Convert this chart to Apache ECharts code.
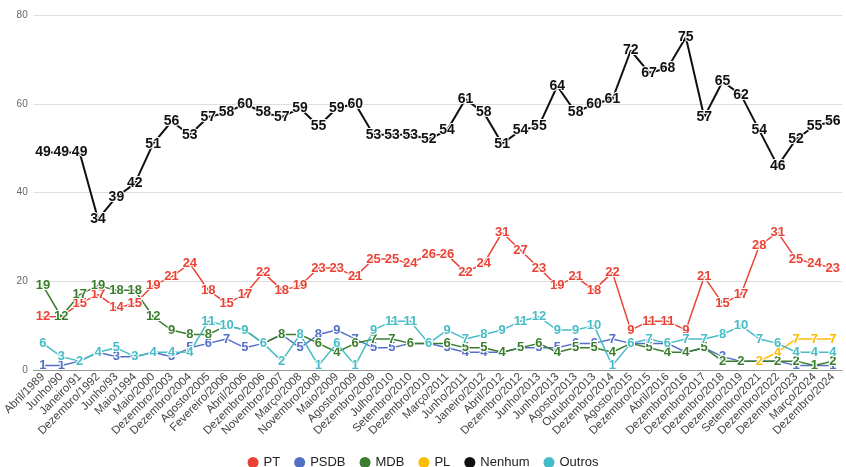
<!DOCTYPE html>
<html>
<head>
<meta charset="utf-8">
<script src="https://cdn.jsdelivr.net/npm/echarts@6/dist/echarts.min.js"></script>
<style>
  html, body { margin: 0; padding: 0; background: #fff; }
  #chart { width: 846px; height: 467px; }
</style>
</head>
<body>
<div id="chart"></div>
<script>
var categories = ['Abril/1989', 'Junho/90', 'Janeiro/91', 'Dezembro/1992', 'Junho/93', 'Maio/1994',
  'Maio/2000', 'Dezembro/2003', 'Dezembro/2004', 'Agosto/2005', 'Fevereiro/2006', 'Abril/2006',
  'Dezembro/2006', 'Novembro/2007', 'Março/2008', 'Novembro/2008', 'Maio/2009', 'Agosto/2009',
  'Dezembro/2009', 'Julho/2010', 'Setembro/2010', 'Dezembro/2010', 'Março/2011', 'Junho/2011',
  'Janeiro/2012', 'Abril/2012', 'Dezembro/2012', 'Junho/2013', 'Junho/2013', 'Agosto/2013',
  'Outubro/2013', 'Dezembro/2014', 'Agosto/2015', 'Dezembro/2015', 'Abril/2016', 'Dezembro/2016',
  'Dezembro/2017', 'Dezembro/2018', 'Dezembro/2019', 'Setembro/2021', 'Dezembro/2022',
  'Dezembro/2023', 'Março/2024', 'Dezembro/2024'];

var pt = [12, 12, 15, 17, 14, 15, 19, 21, 24, 18, 15, 17, 22, 18, 19, 23, 23, 21, 25, 25, 24, 26,
  26, 22, 24, 31, 27, 23, 19, 21, 18, 22, 9, 11, 11, 9, 21, 15, 17, 28, 31, 25, 24, 23];
var psdb = [1, 1, 2, 4, 3, 3, 4, 3, 5, 6, 7, 5, 6, 8, 5, 8, 9, 7, 5, 5, 6, 6, 5, 4, 4, 4, 5, 5,
  5, 6, 6, 7, 6, 6, 6, 4, 5, 3, 2, 2, 2, 1, 1, 1];
var mdb = [19, 12, 17, 19, 18, 18, 12, 9, 8, 8, 10, 9, 6, 8, 8, 6, 4, 6, 7, 7, 6, 6, 6, 5, 5, 4,
  5, 6, 4, 5, 5, 4, 6, 5, 4, 4, 5, 2, 2, 2, 2, 2, 1, 2];
var pl = [null, null, null, null, null, null, null, null, null, null, null, null, null, null,
  null, null, null, null, null, null, null, null, null, null, null, null, null, null, null, null,
  null, null, null, null, null, null, null, null, null, 2, 4, 7, 7, 7];
var nenhum = [49, 49, 49, 34, 39, 42, 51, 56, 53, 57, 58, 60, 58, 57, 59, 55, 59, 60, 53, 53, 53,
  52, 54, 61, 58, 51, 54, 55, 64, 58, 60, 61, 72, 67, 68, 75, 57, 65, 62, 54, 46, 52, 55, 56];
var outros = [6, 3, 2, 4, 5, 3, 4, 4, 4, 11, 10, 9, 6, 2, 8, 1, 6, 1, 9, 11, 11, 6, 9, 7, 8, 9,
  11, 12, 9, 9, 10, 1, 6, 7, 6, 7, 7, 8, 10, 7, 6, 4, 4, 4];

var yTicks = [0, 20, 40, 60, 80];

function makeSeries(name, data, color, width, fontSize) {
  return {
    name: name,
    type: 'line',
    data: data,
    color: color,
    symbol: 'circle',
    symbolSize: 1,
    showAllSymbol: true,
    connectNulls: false,
    animation: false,
    lineStyle: { color: color, width: width },
    label: {
      show: true,
      position: 'inside',
      color: color,
      fontFamily: 'Liberation Sans, Arial, sans-serif',
      fontWeight: 'bold',
      fontSize: fontSize,
      textBorderColor: '#fff',
      textBorderWidth: 2
    }
  };
}

var chart = echarts.init(document.getElementById('chart'));
chart.setOption({
  backgroundColor: '#fff',
  textStyle: { fontFamily: 'Liberation Sans, Arial, sans-serif' },
  grid: { left: 28, right: 4, top: 15, bottom: 97 },
  legend: {
    top: 451,
    icon: 'circle',
    itemWidth: 11,
    itemHeight: 11,
    itemGap: 14,
    textStyle: { color: '#222', fontSize: 13 },
    data: ['PT', 'PSDB', 'MDB', 'PL', 'Nenhum', 'Outros']
  },
  xAxis: {
    type: 'category',
    data: categories,
    boundaryGap: true,
    axisTick: { show: false },
    axisLine: { lineStyle: { color: '#999' } },
    axisLabel: { interval: 0, rotate: 45, color: '#444', fontSize: 11.5, margin: 5 }
  },
  yAxis: {
    type: 'value',
    min: yTicks[0],
    max: yTicks[yTicks.length - 1],
    interval: 20,
    axisLine: { show: false },
    axisTick: { show: false },
    axisLabel: { color: '#666', fontSize: 10, margin: 6 },
    splitLine: { lineStyle: { color: '#ddd' } }
  },
  series: [
    makeSeries('PT', pt, '#ea4335', 1.5, 13),
    makeSeries('PSDB', psdb, '#5470c6', 1.5, 13),
    makeSeries('MDB', mdb, '#3a7d2c', 1.5, 13),
    makeSeries('PL', pl, '#fbbc04', 1.5, 13),
    makeSeries('Nenhum', nenhum, '#111', 2, 14),
    makeSeries('Outros', outros, '#46bdc6', 1.5, 13)
  ]
});
</script>
</body>
</html>
